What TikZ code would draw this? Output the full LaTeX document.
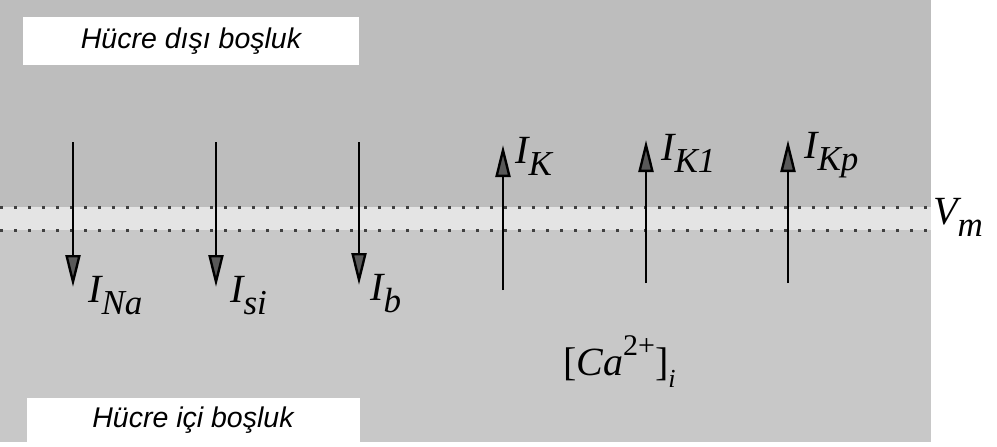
\documentclass[tikz,border=0pt]{standalone}
\usepackage{fontspec}
\setmainfont{Liberation Serif}
\newfontfamily\boxfont{Liberation Sans}
\usetikzlibrary{arrows.meta}
\definecolor{topgray}{HTML}{BDBDBD}
\definecolor{botgray}{HTML}{C8C8C8}
\definecolor{bandgray}{HTML}{E4E4E4}
\begin{document}
\begin{tikzpicture}[x=1pt,y=-1pt,
  cur/.style={line width=2.4pt, -{Triangle[length=32pt,width=15pt,fill=black!65]}},
  dotline/.style={line width=3pt, dash pattern=on 3pt off 11pt, black!75},
  lbl/.style={anchor=base west, inner sep=0pt, font=\fontsize{40}{42}\selectfont\itshape},
  boxlbl/.style={fill=white, inner sep=0pt, font=\boxfont\itshape\fontsize{28.5}{31}\selectfont}]
\newcommand\sbx[1]{\raisebox{-0.3em}{\fontsize{35}{37}\selectfont #1}}
\useasboundingbox (0,0) rectangle (997,447);
\fill[topgray] (0,0) rectangle (931,207);
\fill[bandgray] (0,207) rectangle (931,230);
\fill[botgray] (0,230) rectangle (931,442);
\draw[dotline] (0,207) -- (931,207);
\draw[dotline] (0,230) -- (931,230);
% boxes
\node[boxlbl, minimum width=336pt, minimum height=48pt] (outside) at (191,41) {Hücre dışı boşluk};
\node[boxlbl, minimum width=333pt, minimum height=45pt] (inside) at (193,420) {Hücre içi boşluk};
% arrow end points
\coordinate (na1) at (73,142);  \coordinate (na2) at (73,287);
\coordinate (si1) at (216,142); \coordinate (si2) at (216,287);
\coordinate (b1) at (359,142);  \coordinate (b2) at (359,285);
\coordinate (k1) at (503,290);  \coordinate (k2) at (503,145);
\coordinate (kl1) at (646,283); \coordinate (kl2) at (646,140);
\coordinate (kp1) at (788,283); \coordinate (kp2) at (788,140);
\draw[cur] (na1) -- (na2);
\draw[cur] (si1) -- (si2);
\draw[cur] (b1) -- (b2);
\draw[cur] (k1) -- (k2);
\draw[cur] (kl1) -- (kl2);
\draw[cur] (kp1) -- (kp2);
% labels
\node[lbl] (lna) at (88,302) {I\sbx{Na}};
\node[lbl] (lsi) at (230,302) {I\sbx{si}};
\node[lbl] (lb) at (370,300) {I\sbx{b}};
\node[lbl] (lk) at (515,163) {I\sbx{K}};
\node[lbl] (lkl) at (661,160) {I\sbx{K1}};
\node[lbl] (lkp) at (804,158) {I\sbx{Kp}};
\node[lbl] (vm) at (933,224) {V\sbx{m}};
\node[lbl, font=\fontsize{40}{42}\selectfont] (ca) at (563,375) {[\textit{Ca}\raisebox{0.5em}{\fontsize{30}{32}\selectfont 2+}]\raisebox{-0.3em}{\fontsize{26}{28}\selectfont\itshape i}};
\end{tikzpicture}
\end{document}
